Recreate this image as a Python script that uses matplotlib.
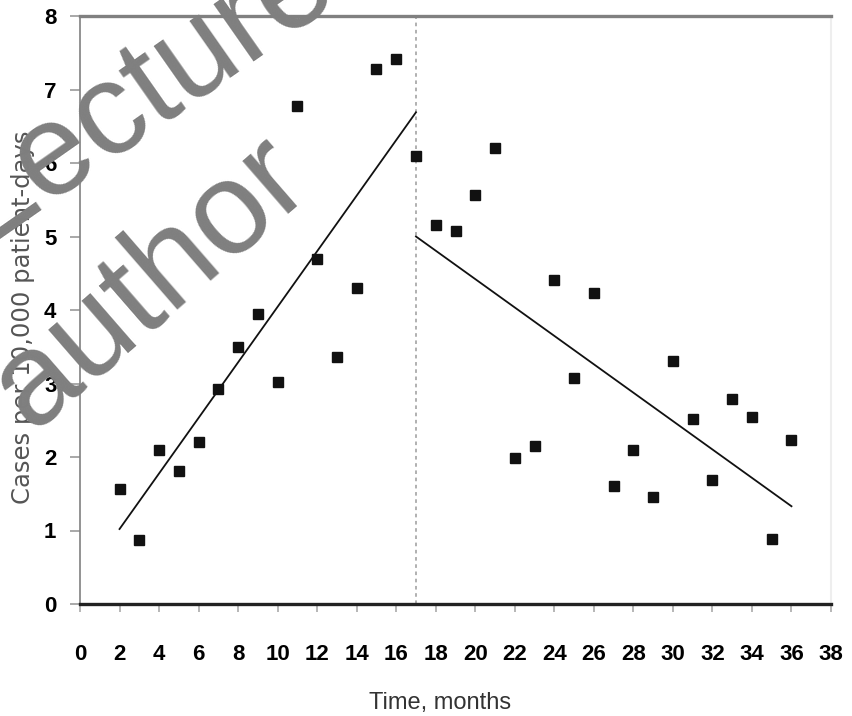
import numpy as np
import matplotlib
matplotlib.use('Agg')
import matplotlib.pyplot as plt
from matplotlib import font_manager

# monthly rates
months = [2, 3, 4, 5, 6, 7, 8, 9, 10, 11, 12, 13, 14, 15, 16, 17, 18, 19,
          20, 21, 22, 23, 24, 25, 26, 27, 28, 29, 30, 31, 32, 33, 34, 35, 36]
rates = [1.57, 0.87, 2.09, 1.81, 2.21, 2.92, 3.50, 3.94, 3.02, 6.78, 4.69,
         3.36, 4.30, 7.28, 7.42, 6.09, 5.16, 5.07, 5.57, 6.21, 1.98, 2.15,
         4.41, 3.07, 4.23, 1.61, 2.10, 1.46, 3.30, 2.52, 1.69, 2.79, 2.55,
         0.88, 2.23]

# fitted segments (start/end)
fit1_x = [2, 17]
fit1_y = [1.02, 6.69]
fit2_x = [17, 36]
fit2_y = [5.0, 1.33]
break_month = 17

xticks = np.arange(0, 39, 2)
yticks = np.arange(0, 9, 1)

# narrow font for the digits if there is one
have = set(f.name for f in font_manager.fontManager.ttflist)
tick_font = 'Liberation Sans'
tick_size = 16
for name in ['Liberation Sans Narrow', 'DejaVu Sans Condensed']:
    if name in have:
        tick_font = name
        tick_size = 17
        break
lab_font = ['Liberation Sans', 'DejaVu Sans']

fig = plt.figure(figsize=(8.52, 7.16), dpi=100)
ax = fig.add_axes([80/852, 1-604/716, 751/852, 588/716])

ax.plot(months, rates, 's', color='#111111', ms=7.5, zorder=3)
ax.plot(fit1_x, fit1_y, color='#111111', lw=1.3, zorder=2)
ax.plot(fit2_x, fit2_y, color='#111111', lw=1.3, zorder=2)
ax.axvline(break_month, color='#aaaaaa', lw=1.3, ls=(0, (2, 2)), zorder=1)

ax.set_xlim(0, 38)
ax.set_ylim(0, 8)
ax.set_xticks(xticks)
ax.set_yticks(yticks)
ax.set_xticklabels([str(t) for t in xticks], family=tick_font,
                   fontsize=tick_size, fontweight='bold')
ax.set_yticklabels([str(t) for t in yticks], family=tick_font,
                   fontsize=tick_size, fontweight='bold')
ax.tick_params(axis='x', length=6, width=1.2, color='#aaaaaa', pad=23)
ax.tick_params(axis='y', length=7, width=1.2, color='#999999', pad=10)

ax.spines['top'].set_color('#808080')
ax.spines['top'].set_linewidth(2.4)
ax.spines['left'].set_color('#808080')
ax.spines['left'].set_linewidth(1.2)
ax.spines['bottom'].set_color('#222222')
ax.spines['bottom'].set_linewidth(2.4)
ax.spines['right'].set_color('#eeeeee')
ax.spines['right'].set_linewidth(1.5)

ax.set_xlabel('Time, months', family=lab_font, fontsize=17, color='#333333')
ax.set_ylabel('Cases per 10,000 patient-days', family='DejaVu Sans',
              fontsize=17.5, color='#555555')
ax.xaxis.set_label_coords(0.479, -0.150)
ax.yaxis.set_label_coords(-0.060, 0.487)

# watermark
fig.text(142/852, 1-90/716, 'Lecture', family=lab_font,
         fontsize=94, color='#7f7f7f', rotation=35, ha='center', va='center', zorder=10)
fig.text(150/852, 1-283/716, 'author', family=lab_font,
         fontsize=95, color='#7f7f7f', rotation=41, ha='center', va='center', zorder=10)

plt.savefig('out.png', dpi=100)
